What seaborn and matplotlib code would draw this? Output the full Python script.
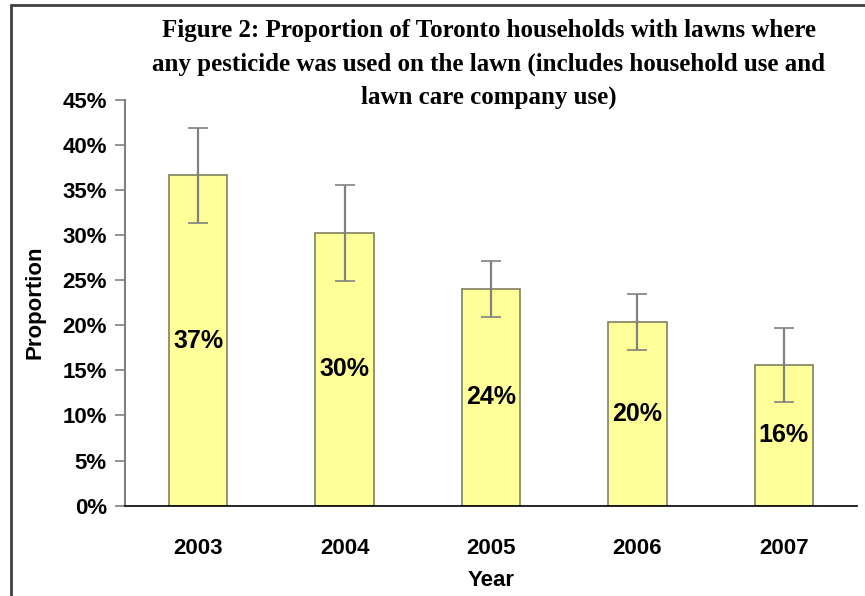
import matplotlib
matplotlib.use("Agg")
import matplotlib.pyplot as plt
import seaborn as sns
import pandas as pd
from matplotlib.lines import Line2D

# data
years = ["2003", "2004", "2005", "2006", "2007"]
proportion = [0.366, 0.302, 0.240, 0.204, 0.156]
err = [0.053, 0.053, 0.031, 0.031, 0.041]
bar_labels = ["37%", "30%", "24%", "20%", "16%"]

df = pd.DataFrame({"Year": years, "Proportion": proportion})

sns.set_style("white")
plt.rcParams["font.family"] = ["Liberation Sans", "DejaVu Sans"]
plt.rcParams["text.color"] = "black"
plt.rcParams["axes.labelcolor"] = "black"

fig = plt.figure(figsize=(8.65, 5.96), dpi=100)
ax = fig.add_axes([125 / 865, 90.3 / 596, (857 - 125) / 865, (505.7 - 99.7) / 596])

sns.barplot(data=df, x="Year", y="Proportion", color="#FFFF99", edgecolor="#808060",
            linewidth=1.2, width=0.4, errorbar=None, saturation=1, ax=ax)

line, caps, bars = ax.errorbar(range(len(years)), proportion, yerr=err, fmt="none",
                               ecolor="#808080", elinewidth=1.6, capsize=7, capthick=1.2)
for c in caps:
    c.set_color("black")

ax.bar_label(ax.containers[0], labels=bar_labels, label_type="center",
             fontsize=18, fontweight="bold", color="black")

ax.set_ylim(0, 0.45)
ax.set_xlim(-0.5, len(years) - 0.5)
ax.set_yticks([i * 0.05 for i in range(10)])
ax.set_yticklabels([f"{i * 5}%" for i in range(10)], fontsize=16, fontweight="bold")
ax.set_xticks(range(len(years)))
ax.set_xticklabels(years, fontsize=16, fontweight="bold")
ax.set_xticks([i - 0.5 for i in range(len(years) + 1)], minor=True)
ax.tick_params(axis="x", which="major", length=0, pad=23, labelcolor="black")
ax.tick_params(axis="x", which="minor", length=7, width=1.2, color="#808080", direction="out")
ax.tick_params(axis="y", length=7, width=1.2, color="#808080", direction="out", pad=6,
               left=True, labelcolor="black")

for s in ["top", "right"]:
    ax.spines[s].set_visible(False)
ax.spines["left"].set_color("#808080")
ax.spines["left"].set_linewidth(1.5)
ax.spines["bottom"].set_color("black")
ax.spines["bottom"].set_linewidth(1.2)

ax.set_ylabel("Proportion", fontsize=16, fontweight="bold", labelpad=12)
ax.set_xlabel("Year", fontsize=16, fontweight="bold", labelpad=8)

fig.text(489 / 865, 1 - 64 / 596,
         "Figure 2: Proportion of Toronto households with lawns where\n"
         "any pesticide was used on the lawn (includes household use and\n"
         "lawn care company use)",
         ha="center", va="center", fontsize=18, fontweight="bold",
         family=["Liberation Serif"], linespacing=1.55)

# chart area border (left and top edges visible)
fig.add_artist(Line2D([11 / 865, 11 / 865], [0, 1 - 5 / 596], transform=fig.transFigure,
                      color="#404040", linewidth=2))
fig.add_artist(Line2D([11 / 865, 1], [1 - 5 / 596, 1 - 5 / 596], transform=fig.transFigure,
                      color="#404040", linewidth=2))

fig.savefig("out.png", dpi=100)
